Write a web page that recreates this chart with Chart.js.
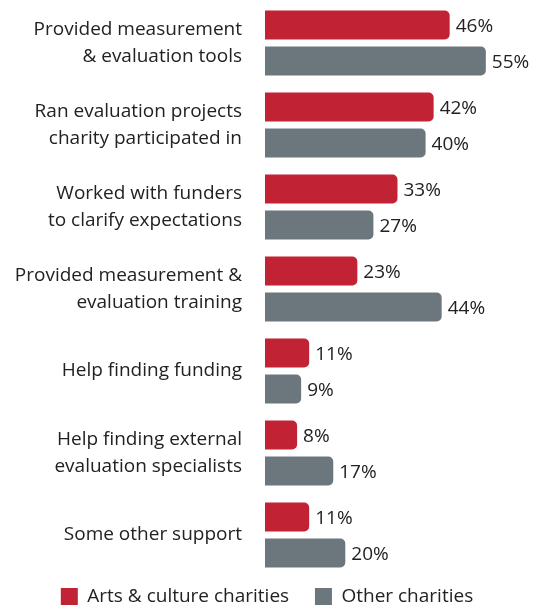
<!DOCTYPE html>
<html>
<head>
<meta charset="utf-8">
<script src="https://cdn.jsdelivr.net/npm/chart.js@4"></script>
<style>
  html, body { margin: 0; padding: 0; background: #fff; }
  #wrap { width: 534px; height: 605px; }
</style>
</head>
<body>
<div id="wrap"><canvas id="chart"></canvas></div>
<script>
// categories and values
var categories = [
    ["Provided measurement", "& evaluation tools"],
    ["Ran evaluation projects", "charity participated in"],
    ["Worked with funders", "to clarify expectations"],
    ["Provided measurement &", "evaluation training"],
    "Help finding funding",
    ["Help finding external", "evaluation specialists"],
    "Some other support"
]
var artsValues = [46, 42, 33, 23, 11, 8, 11]
var otherValues = [55, 40, 27, 44, 9, 17, 20]
var seriesNames = ["Arts & culture charities", "Other charities"]

var fontFamily = "'Open Sans', Lato, sans-serif"

// draws the "46%" labels at the end of each bar
var valueLabels = {
    id: 'valueLabels',
    afterDatasetsDraw: function(chart) {
        var ctx = chart.ctx
        ctx.save()
        ctx.font = "19px " + fontFamily
        ctx.fillStyle = "#222"
        ctx.textAlign = "left"
        ctx.textBaseline = "middle"
        chart.data.datasets.forEach(function(ds, i) {
            chart.getDatasetMeta(i).data.forEach(function(bar, j) {
                ctx.fillText(ds.data[j] + "%", bar.x + 6, bar.y + 2)
            })
        })
        ctx.restore()
    }
}

new Chart(document.getElementById("chart"), {
    type: 'bar',
    data: {
        labels: categories,
        datasets: [
            {
                label: seriesNames[0],
                data: artsValues,
                backgroundColor: "#C22334",
                borderRadius: 5
            },
            {
                label: seriesNames[1],
                data: otherValues,
                backgroundColor: "#6B777C",
                borderRadius: 5
            }
        ]
    },
    options: {
        indexAxis: 'y',
        responsive: true,
        maintainAspectRatio: false,
        animation: false,
        datasets: {
            bar: { categoryPercentage: 0.88, barPercentage: 0.8 }
        },
        layout: { padding: { top: 2, right: 0, left: 0, bottom: -11 } },
        scales: {
            x: {
                display: false,
                min: 0,
                max: 67
            },
            y: {
                grid: { display: false, drawTicks: false },
                border: { display: false },
                ticks: {
                    padding: 23,
                    color: "#222",
                    font: { family: fontFamily, size: 19, lineHeight: 1.38 }
                },
                afterFit: function(scale) {
                    scale.width = 265
                    scale.paddingTop = 0
                    scale.paddingBottom = 0
                }
            }
        },
        plugins: {
            legend: {
                position: 'bottom',
                labels: {
                    boxWidth: 17,
                    boxHeight: 17,
                    padding: 11,
                    color: "#222",
                    font: { family: fontFamily, size: 19 },
                    // a bit more room between the two legend entries
                    generateLabels: function(chart) {
                        var items = Chart.defaults.plugins.legend.labels.generateLabels(chart)
                        items[0].text = items[0].text + "   "
                        return items
                    }
                }
            },
            tooltip: { enabled: false }
        }
    },
    plugins: [valueLabels]
})
</script>
</body>
</html>
